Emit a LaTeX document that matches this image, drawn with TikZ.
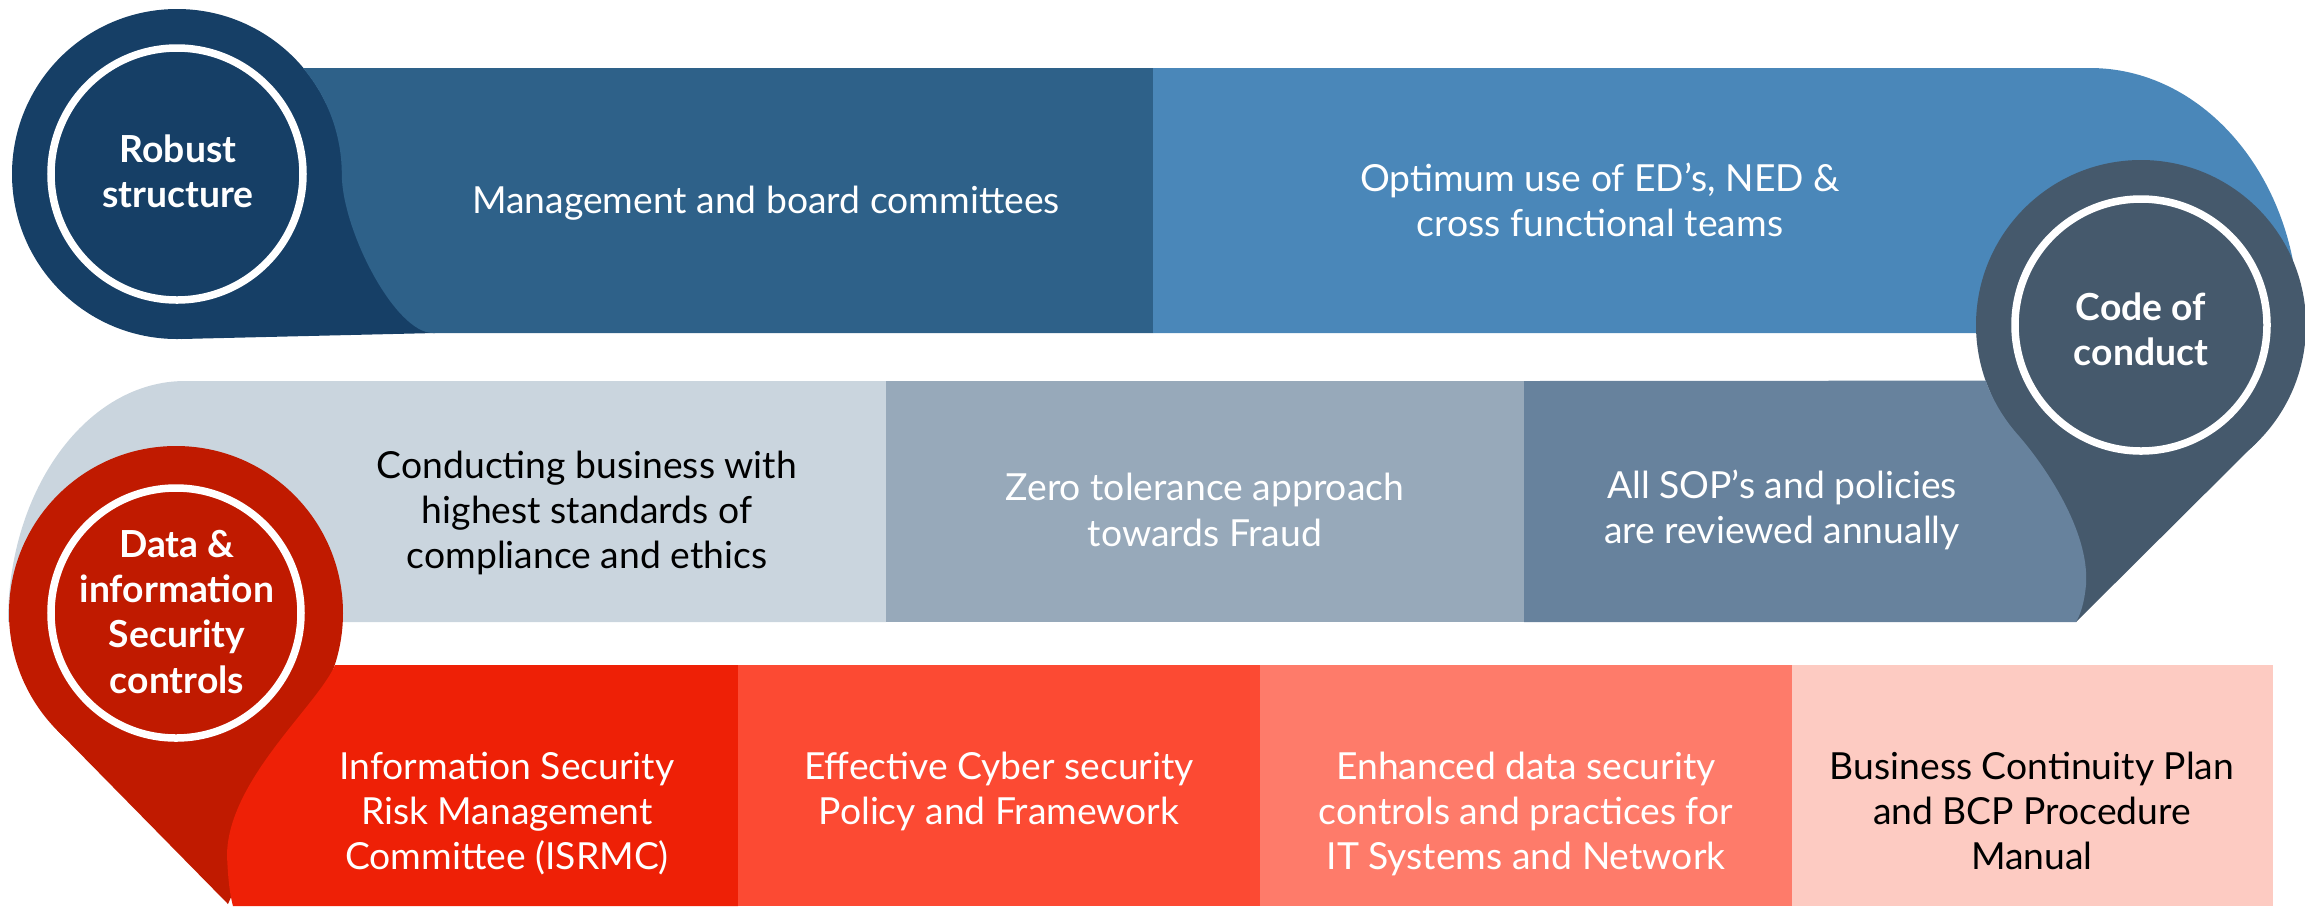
\documentclass[tikz,border=0pt]{standalone}
\usepackage{fontspec}
\setmainfont{Lato}
\definecolor{pinA}{HTML}{163F66}
\definecolor{topA}{HTML}{2E6189}
\definecolor{topB}{HTML}{4A87B9}
\definecolor{pinB}{HTML}{45596C}
\definecolor{midA}{HTML}{CAD5DE}
\definecolor{midB}{HTML}{97A9BA}
\definecolor{midC}{HTML}{67829D}
\definecolor{pinC}{HTML}{C01A00}
\definecolor{botA}{HTML}{EE2006}
\definecolor{botB}{HTML}{FC4A33}
\definecolor{botC}{HTML}{FE7B6A}
\definecolor{botD}{HTML}{FDCBC2}
\begin{document}
\begin{tikzpicture}[x=0.01cm,y=-0.01cm,
  ring/.style={draw=white,line width=0.075cm},
  btxt/.style={font=\fontsize{10.6}{12.9}\selectfont,align=center,text=white,inner sep=0pt},
  dtxt/.style={btxt,text=black},
  ptxt/.style={font=\fontsize{10.6}{12.8}\selectfont\bfseries,align=center,text=white,inner sep=0pt}]
\useasboundingbox (0,0) rectangle (2305,908);
% --- top row ---
\coordinate (cA) at (177,174);
\fill[pinA] (cA) circle[radius=165];
\fill[pinA] (181,339) -- (326,103) -- (435,333) -- cycle;
\fill[topA] (303,68) arc[start angle=-40.1,end angle=0,radius=165]
   .. controls (342,230) and (395,333) .. (433,333) -- (1153,333) -- (1153,68) -- cycle;
\fill[topB] (1153,68) -- (2090,68) .. controls (2200,68) and (2290,170) .. (2298,300)
   -- (2200,333) -- (1153,333) -- cycle;
% --- code of conduct pin ---
\coordinate (cB) at (2141,325);
\fill[pinB] (cB) circle[radius=165];
\fill[pinB] (1987,383) -- (2257,442) -- (2076,622) -- cycle;
% --- middle row ---
\fill[midA] (886,381) -- (185,381) arc[start angle=270,end angle=180,x radius=177,y radius=241]
   -- (886,622) -- cycle;
\fill[midB] (886,381) rectangle (1524,622);
\fill[midC] (1524,381) -- (1985.7,380.6) arc[start angle=160.3,end angle=139,radius=165]
   .. controls (2043,463) and (2090,530) .. (2086,585)
   .. controls (2084,605) and (2080,615) .. (2076,622) -- (1524,622) -- cycle;
% --- data pin ---
\coordinate (cC) at (176,613);
\fill[pinC] (cC) circle[radius=167];
\fill[pinC] (57,730) -- (328,682) -- (228,904) -- cycle;
% --- bottom row ---
\fill[botA] (335,665) .. controls (318,705) and (228,780) .. (227,855)
   .. controls (228,880) and (230,895) .. (233,906) -- (738,906) -- (738,665) -- cycle;
\fill[botB] (738,665) rectangle (1260,906);
\fill[botC] (1260,665) rectangle (1792,906);
\fill[botD] (1792,665) rectangle (2273,906);
% --- rings ---
\draw[ring] (cA) circle[radius=126];
\draw[ring] (cB) circle[radius=126];
\draw[ring] (cC) circle[radius=125];
% --- texts ---
\node[ptxt] (robust) at (178,171) {Robust\\structure};
\node[ptxt] (code) at (2141,329) {Code of\\conduct};
\node[ptxt] (data) at (177,612) {Data \&\\information\\Security\\controls};
\node[btxt] (mgmt) at (766,203) {Management and board committees};
\node[btxt] (optimum) at (1600,200) {Optimum use of ED’s, NED \&\\cross functional teams};
\node[dtxt] (conducting) at (587,513) {Conducting business with\\highest standards of\\compliance and ethics};
\node[btxt] (zero) at (1205,510) {Zero tolerance approach\\towards Fraud};
\node[btxt] (sop) at (1782,510) {All SOP’s and policies\\are reviewed annually};
\node[btxt,anchor=north] (isrmc) at (507,751) {Information Security\\Risk Management\\Committee (ISRMC)};
\node[btxt,anchor=north] (cyber) at (999,751) {Effective Cyber security\\Policy and Framework};
\node[btxt,anchor=north] (enhanced) at (1526,751) {Enhanced data security\\controls and practices for\\IT Systems and Network};
\node[dtxt,anchor=north] (bcp) at (2032,751) {Business Continuity Plan\\and BCP Procedure\\Manual};
\end{tikzpicture}
\end{document}
